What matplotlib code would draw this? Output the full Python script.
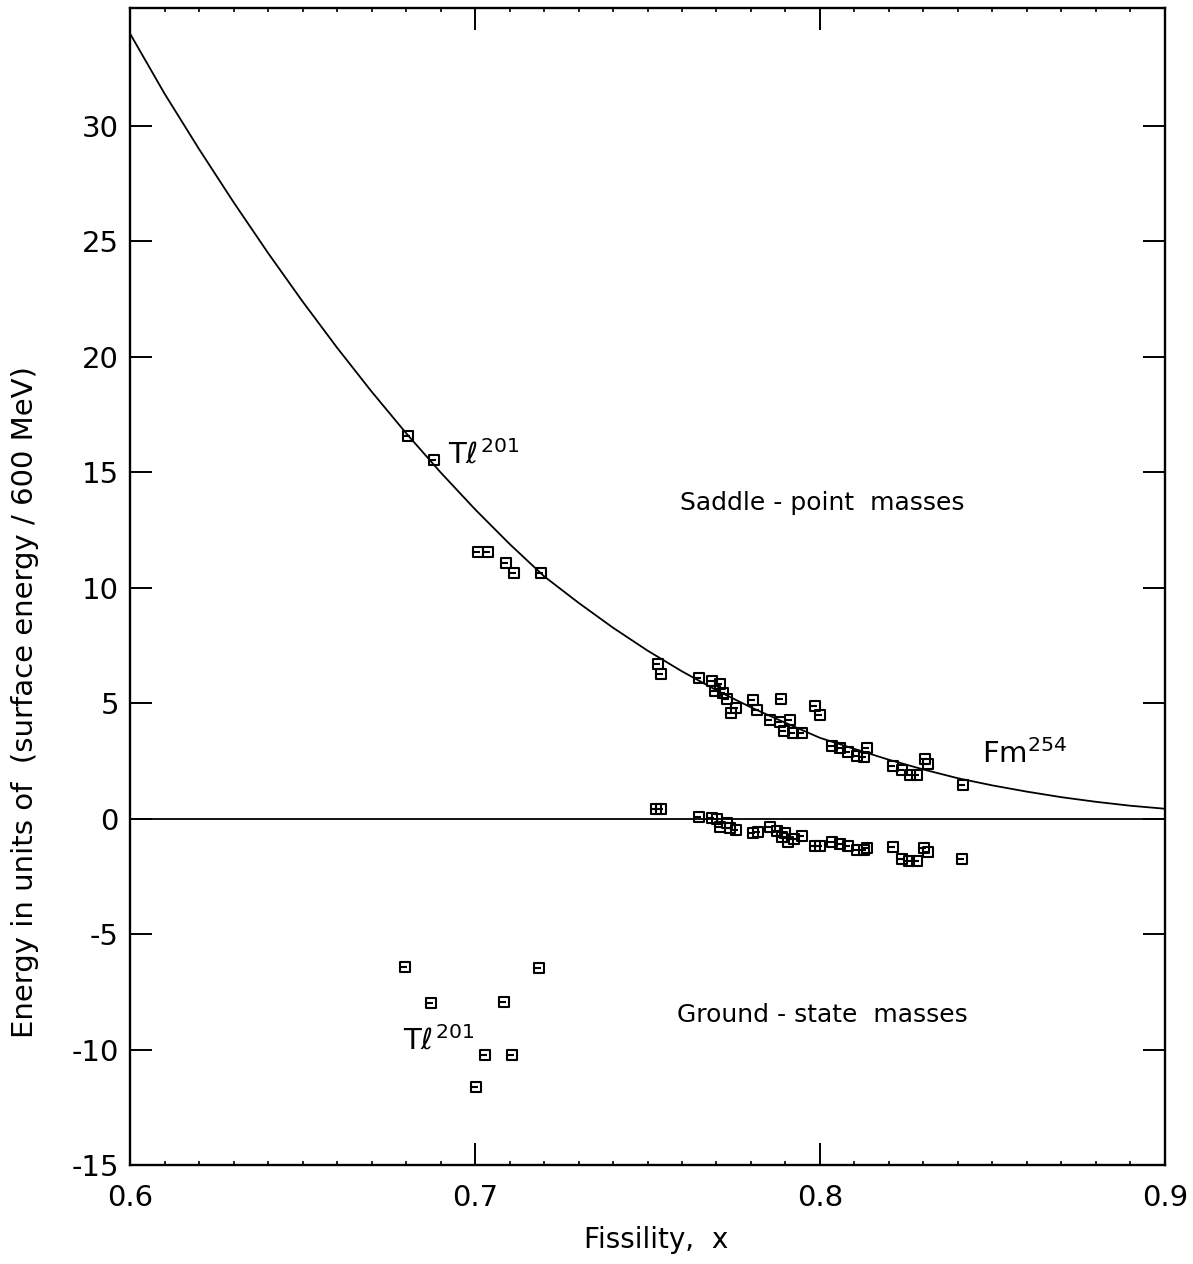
import matplotlib
matplotlib.use("Agg")
import matplotlib.pyplot as plt
from matplotlib.path import Path
from matplotlib.ticker import MultipleLocator

# liquid-drop curve, every 0.01
curve_x = [0.60, 0.61, 0.62, 0.63, 0.64, 0.65, 0.66, 0.67, 0.68, 0.69,
           0.70, 0.71, 0.72, 0.73, 0.74, 0.75, 0.76, 0.77, 0.78, 0.79,
           0.80, 0.81, 0.82, 0.83, 0.84, 0.85, 0.86, 0.87, 0.88, 0.89, 0.90]
curve_y = [34.0, 31.4, 29.0, 26.7, 24.5, 22.4, 20.4, 18.5, 16.7, 15.0,
           13.4, 11.9, 10.5, 9.35, 8.27, 7.28, 6.38, 5.56, 4.82, 4.15,
           3.50, 3.02, 2.55, 2.13, 1.75, 1.44, 1.17, 0.93, 0.73, 0.56, 0.43]

# saddle-point masses
saddle_x = [0.6806, 0.6881, 0.7009, 0.7038, 0.7090, 0.7113, 0.7191,
            0.7530, 0.7539, 0.7649, 0.7687, 0.7710, 0.7696, 0.7719, 0.7730,
            0.7757, 0.7742, 0.7806, 0.7817, 0.7887, 0.7855, 0.7884, 0.7913,
            0.7896, 0.7922, 0.7948, 0.7986, 0.8000, 0.8035, 0.8058, 0.8081,
            0.8107, 0.8128, 0.8136, 0.8212, 0.8238, 0.8261, 0.8281, 0.8304,
            0.8313, 0.8414]
saddle_y = [16.57, 15.53, 11.55, 11.55, 11.07, 10.64, 10.64,
            6.70, 6.27, 6.09, 5.96, 5.83, 5.53, 5.44, 5.18,
            4.79, 4.58, 5.14, 4.71, 5.18, 4.28, 4.19, 4.28,
            3.80, 3.71, 3.71, 4.88, 4.49, 3.15, 3.06, 2.89,
            2.71, 2.67, 3.06, 2.28, 2.11, 1.89, 1.89, 2.58,
            2.37, 1.46]

# ground-state masses
ground_x = [0.6797, 0.7186, 0.6872, 0.7084, 0.7029, 0.7107, 0.7003,
            0.7525, 0.7538, 0.7649, 0.7687, 0.7701, 0.7710, 0.7730, 0.7739,
            0.7757, 0.7806, 0.7820, 0.7855, 0.7875, 0.7890, 0.7899, 0.7907,
            0.7925, 0.7948, 0.7986, 0.8000, 0.8035, 0.8058, 0.8081, 0.8107,
            0.8128, 0.8136, 0.8212, 0.8238, 0.8258, 0.8281, 0.8301, 0.8313,
            0.8412]
ground_y = [-6.42, -6.47, -7.99, -7.95, -10.23, -10.23, -11.62,
            0.40, 0.43, 0.07, 0.03, 0.00, -0.36, -0.19, -0.40,
            -0.48, -0.62, -0.58, -0.36, -0.53, -0.79, -0.62, -1.00,
            -0.88, -0.75, -1.18, -1.18, -1.01, -1.10, -1.18, -1.36,
            -1.36, -1.27, -1.23, -1.75, -1.84, -1.84, -1.27, -1.44,
            -1.75]

xticks = [0.6, 0.7, 0.8, 0.9]
xtick_labels = ["0.6", "0.7", "0.8", "0.9"]
yticks = [-15, -10, -5, 0, 5, 10, 15, 20, 25, 30]
ytick_labels = ["-15", "-10", "-5", "0", "5", "10", "15", "20", "25", "30"]

# square with a little bar inside, like the hand-drawn symbols
box = Path([(-0.5, -0.5), (0.5, -0.5), (0.5, 0.5), (-0.5, 0.5), (-0.5, -0.5),
            (-0.5, 0.0), (0.15, 0.0)],
           [Path.MOVETO, Path.LINETO, Path.LINETO, Path.LINETO, Path.CLOSEPOLY,
            Path.MOVETO, Path.LINETO])

plt.rcParams['font.family'] = ['DejaVu Sans']
fig = plt.figure(figsize=(11.93, 12.64), dpi=100)
ax = fig.add_axes([0.109, 0.0783, 0.8675, 0.9154])

ax.plot(curve_x, curve_y, color='black', lw=1.3)
ax.axhline(0, color='black', lw=1.3)
ax.plot(saddle_x, saddle_y, ls='none', marker=box, ms=7.5, mfc='none', mec='black', mew=1.5)
ax.plot(ground_x, ground_y, ls='none', marker=box, ms=7.5, mfc='none', mec='black', mew=1.5)

ax.set_xlim(0.6, 0.9)
ax.set_ylim(-15, 35.11)
ax.set_xticks(xticks, xtick_labels)
ax.set_yticks(yticks, ytick_labels)
ax.xaxis.set_minor_locator(MultipleLocator(0.01))
ax.tick_params(axis='both', which='major', direction='in', length=16, width=1.4,
               labelsize=21, top=True, right=True)
ax.tick_params(axis='x', which='major', pad=14)
ax.tick_params(axis='y', which='major', pad=8)
ax.tick_params(axis='x', which='minor', direction='in', length=3, width=1.2, top=True)
for s in ax.spines.values():
    s.set_linewidth(1.7)

ax.set_xlabel("Fissility,  x", fontsize=20)
ax.xaxis.set_label_coords(0.508, -0.053)
ax.set_ylabel("Energy in units of  (surface energy / 600 MeV)", fontsize=21)
ax.yaxis.set_label_coords(-0.088, 0.40)

ax.text(0.6922, 15.75, r"T$\ell^{201}$", fontsize=21, ha='left', va='center')
ax.text(0.6791, -9.6, r"T$\ell^{201}$", fontsize=21, ha='left', va='center')
ax.text(0.847, 2.8, r"Fm$^{254}$", fontsize=21, ha='left', va='center')
ax.text(0.8006, 13.66, "Saddle - point  masses", fontsize=18, ha='center', va='center')
ax.text(0.8006, -8.5, "Ground - state  masses", fontsize=18, ha='center', va='center')

fig.savefig("out.png", dpi=100)
